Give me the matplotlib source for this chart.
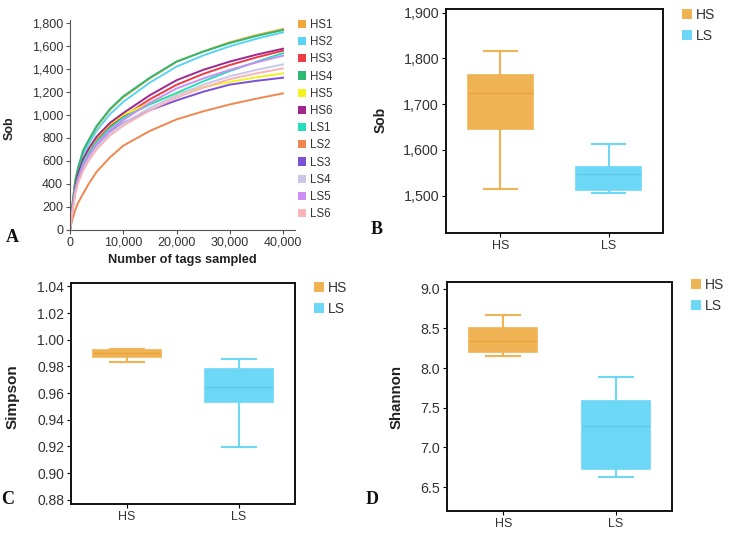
import numpy as np
import matplotlib
matplotlib.use("Agg")
import matplotlib.pyplot as plt
from matplotlib.patches import Patch
from matplotlib.ticker import FuncFormatter

plt.rcParams['font.family'] = ['Liberation Sans', 'DejaVu Sans']

# ---- panel A: rarefaction curves ----
tags = [0, 200, 500, 1000, 1500, 2500, 3500, 5000, 7500, 10000, 15000, 20000, 25000, 30000, 35000, 40000]
samples = ["HS1", "HS2", "HS3", "HS4", "HS5", "HS6", "LS1", "LS2", "LS3", "LS4", "LS5", "LS6"]
sob_curves = {
    "HS1": [0, 110, 235, 425, 530, 685, 770, 893, 1043, 1152, 1316, 1460, 1550, 1630, 1692, 1745],
    "HS2": [0, 105, 230, 410, 515, 660, 745, 862, 1005, 1112, 1280, 1418, 1515, 1595, 1660, 1716],
    "HS3": [0, 95, 205, 370, 465, 600, 680, 785, 900, 985, 1135, 1260, 1355, 1432, 1498, 1557],
    "HS4": [0, 115, 243, 434, 540, 694, 780, 903, 1050, 1160, 1322, 1462, 1548, 1623, 1684, 1736],
    "HS5": [0, 95, 210, 380, 475, 610, 695, 800, 920, 1000, 1105, 1180, 1240, 1285, 1325, 1360],
    "HS6": [0, 100, 215, 385, 485, 620, 705, 810, 930, 1015, 1170, 1300, 1390, 1462, 1522, 1574],
    "LS1": [0, 90, 200, 360, 450, 585, 665, 765, 885, 975, 1090, 1190, 1290, 1380, 1460, 1535],
    "LS2": [0, 45, 100, 174, 235, 318, 400, 505, 630, 732, 860, 960, 1030, 1090, 1140, 1186],
    "LS3": [0, 85, 185, 340, 430, 555, 635, 735, 850, 930, 1040, 1125, 1200, 1262, 1295, 1322],
    "LS4": [0, 80, 180, 330, 420, 540, 620, 720, 840, 925, 1060, 1170, 1260, 1335, 1390, 1438],
    "LS5": [0, 85, 190, 345, 435, 565, 645, 745, 865, 955, 1105, 1228, 1315, 1390, 1455, 1513],
    "LS6": [0, 75, 170, 315, 405, 520, 600, 700, 820, 905, 1040, 1150, 1235, 1310, 1360, 1403],
}
sample_colors = {
    "HS1": "#F0A83C", "HS2": "#5BD3F2", "HS3": "#EE3B44", "HS4": "#2EB872",
    "HS5": "#F5F020", "HS6": "#A0278E", "LS1": "#25DEBA", "LS2": "#F0874F",
    "LS3": "#7B4FD6", "LS4": "#C9C6E8", "LS5": "#CC8EF2", "LS6": "#F7B5B8",
}

# ---- box plots (q1, median, q3, whisker low, whisker high) ----
groups = ["HS", "LS"]
group_colors = {"HS": "#F0B354", "LS": "#6DD8F6"}
median_colors = {"HS": "#E9A33C", "LS": "#5CCBEA"}
sob_box = {"HS": [1645, 1725, 1764, 1514, 1817], "LS": [1512, 1547, 1562, 1507, 1613]}
simpson_box = {"HS": [0.9867, 0.9897, 0.9924, 0.9832, 0.9931],
               "LS": [0.9535, 0.9647, 0.9782, 0.9196, 0.9854]}
shannon_box = {"HS": [8.197, 8.345, 8.504, 8.147, 8.672],
               "LS": [6.723, 7.269, 7.584, 6.626, 7.887]}

W, H = 733, 534
fig = plt.figure(figsize=(W / 100, H / 100), dpi=100)


def px_axes(l, t, r, b):
    return fig.add_axes([l / W, 1 - b / H, (r - l) / W, (b - t) / H])


comma = FuncFormatter(lambda v, p: "{:,.0f}".format(v))
txt = "#333333"

# panel A
axA = px_axes(70, 20, 295, 230)
for s in samples:
    axA.plot(tags, sob_curves[s], color=sample_colors[s], lw=1.4)
axA.set_xlim(0, 42250)
axA.set_ylim(0, 1823)
axA.set_xticks([0, 10000, 20000, 30000, 40000])
axA.set_yticks(range(0, 1801, 200))
axA.xaxis.set_major_formatter(comma)
axA.yaxis.set_major_formatter(comma)
for sp in ["top", "right"]:
    axA.spines[sp].set_visible(False)
for sp in ["left", "bottom"]:
    axA.spines[sp].set_color("#555555")
axA.tick_params(labelsize=9, colors="#555555", labelcolor=txt, length=3, width=0.8, pad=2)
fig.text(10 / W, 1 - 128 / H, "Sob", rotation=90, ha="center", va="center",
         fontsize=9, fontweight="bold", color="#222222")
fig.text(182 / W, 1 - 260 / H, "Number of tags sampled", ha="center", va="center",
         fontsize=9.2, fontweight="bold", color="#222222")
handles = [Patch(facecolor=sample_colors[s], edgecolor="none", label=s) for s in samples]
axA.legend(handles=handles, loc="upper left", bbox_to_anchor=(298 / W, 1 - 19 / H),
           bbox_transform=fig.transFigure, frameon=False, borderaxespad=0,
           borderpad=0, handlelength=0.7, handleheight=0.7, handletextpad=0.35,
           labelspacing=0.45, fontsize=8.3, labelcolor=txt)


def box_panel(ax, data, ylim, yticks, fmt, ylabel, label_xy, leg_xy, tick_fs, lab_fs):
    stats = []
    for g in groups:
        q1, med, q3, lo, hi = data[g]
        stats.append(dict(q1=q1, med=med, q3=q3, whislo=lo, whishi=hi, fliers=[], label=g))
    bp = ax.bxp(stats, positions=[0, 1], widths=0.6, patch_artist=True, showfliers=False)
    for i, g in enumerate(groups):
        c = group_colors[g]
        bp["boxes"][i].set(facecolor=c, edgecolor=c, linewidth=1.2)
        bp["medians"][i].set(color=median_colors[g], linewidth=1.0)
        for w in bp["whiskers"][2 * i:2 * i + 2]:
            w.set(color=c, linewidth=1.5)
        for cp in bp["caps"][2 * i:2 * i + 2]:
            cp.set(color=c, linewidth=1.5)
    ax.set_xlim(-0.5, 1.5)
    ax.set_ylim(*ylim)
    ax.set_yticks(yticks)
    ax.yaxis.set_major_formatter(fmt)
    ax.set_xticks([0, 1])
    ax.set_xticklabels(groups)
    for sp in ax.spines.values():
        sp.set_linewidth(1.4)
        sp.set_color("#111111")
    ax.tick_params(labelsize=tick_fs, labelcolor=txt, length=3, width=0.8, pad=2)
    ax.tick_params(axis="x", labelsize=9)
    fig.text(label_xy[0] / W, 1 - label_xy[1] / H, ylabel, rotation=90, ha="center",
             va="center", fontsize=lab_fs, fontweight="bold", color="#222222")
    hs = [Patch(facecolor=group_colors[g], edgecolor="none", label=g) for g in groups]
    ax.legend(handles=hs, loc="upper left", bbox_to_anchor=(leg_xy[0] / W, 1 - leg_xy[1] / H),
              bbox_transform=fig.transFigure, frameon=False, borderaxespad=0,
              borderpad=0, handlelength=0.7, handleheight=0.7, handletextpad=0.3,
              labelspacing=0.5, fontsize=10, labelcolor=txt)


axB = px_axes(446, 9, 663, 233)
box_panel(axB, sob_box, (1418.5, 1908), [1500, 1600, 1700, 1800, 1900], comma,
          "Sob", (381, 120), (682, 8), 10.3, 10)

axC = px_axes(71, 283, 295, 504)
box_panel(axC, simpson_box, (0.8768, 1.0425), np.arange(0.88, 1.041, 0.02),
          FuncFormatter(lambda v, p: "{:.2f}".format(v)), "Simpson", (13, 397), (314, 281), 10, 11)

axD = px_axes(447, 282, 672, 511)
box_panel(axD, shannon_box, (6.2, 9.084), [6.5, 7.0, 7.5, 8.0, 8.5, 9.0],
          FuncFormatter(lambda v, p: "{:.1f}".format(v)), "Shannon", (397, 397), (691, 278), 10.3, 10.8)

# panel letters
for letter, (x, y) in zip("ABCD", [(12, 237), (377, 230), (8, 500), (372, 500)]):
    fig.text(x / W, 1 - y / H, letter, ha="center", va="center", fontsize=13,
             fontweight="bold", family="Liberation Serif", color="#111111")

fig.savefig("out.png", dpi=100)
